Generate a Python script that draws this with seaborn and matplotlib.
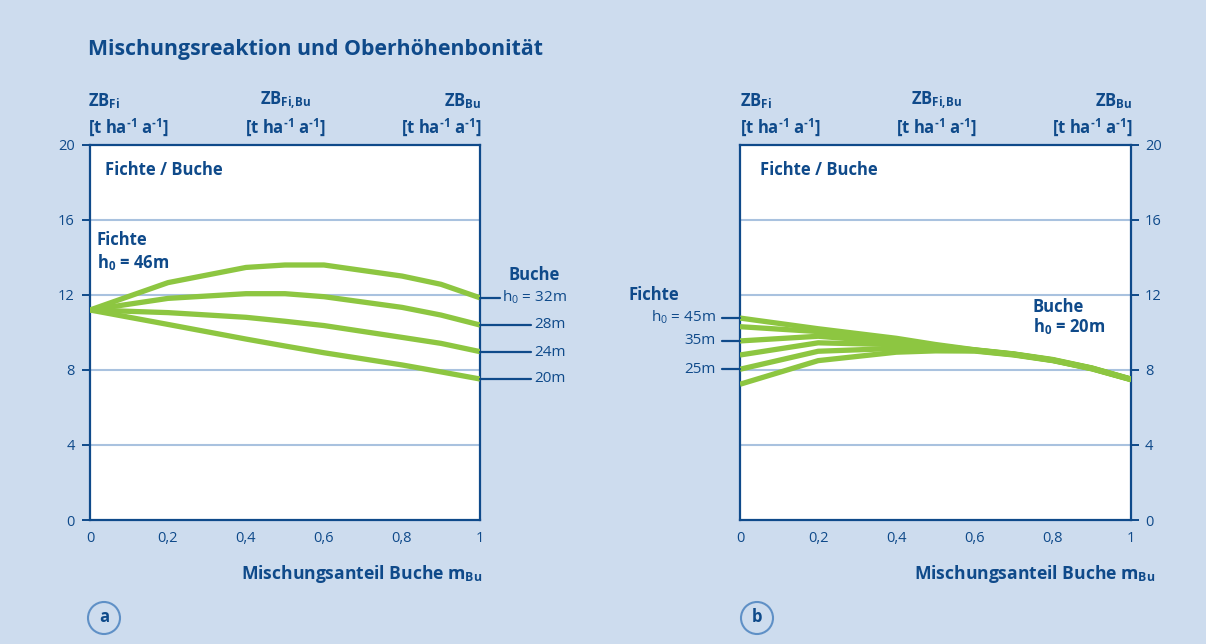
import numpy as np
import pandas as pd
import matplotlib
matplotlib.use("Agg")
import matplotlib.pyplot as plt
from matplotlib.patches import Ellipse
import seaborn as sns

# ---------------- data ----------------
# Panel a: Fichte h0 = 46m, varying Buche h0
x_a = [0.0, 0.2, 0.4, 0.5, 0.6, 0.8, 0.9, 1.0]
buche_h0 = ["32m", "28m", "24m", "20m"]
zb_a_32 = [11.2, 12.66, 13.47, 13.6, 13.6, 13.01, 12.57, 11.85]
zb_a_28 = [11.2, 11.82, 12.07, 12.07, 11.91, 11.34, 10.93, 10.4]
zb_a_24 = [11.2, 11.06, 10.81, 10.6, 10.37, 9.74, 9.42, 8.98]
zb_a_20 = [11.2, 10.43, 9.65, 9.28, 8.92, 8.27, 7.9, 7.52]

# Panel b: Buche h0 = 20m, varying Fichte h0
x_b = [0.0, 0.2, 0.4, 0.5, 0.6, 0.7, 0.8, 0.9, 1.0]
fichte_h0 = ["45m", "40m", "35m", "30m", "25m", "20m"]
zb_b_45 = [10.77, 10.2, 9.69, 9.36, 9.08, 8.86, 8.56, 8.11, 7.52]
zb_b_40 = [10.31, 10.05, 9.58, 9.3, 9.07, 8.85, 8.54, 8.1, 7.51]
zb_b_35 = [9.55, 9.8, 9.47, 9.24, 9.06, 8.84, 8.53, 8.09, 7.5]
zb_b_30 = [8.8, 9.45, 9.35, 9.18, 9.05, 8.83, 8.52, 8.08, 7.5]
zb_b_25 = [8.04, 9.0, 9.15, 9.1, 9.03, 8.82, 8.51, 8.07, 7.49]
zb_b_20 = [7.24, 8.5, 8.95, 9.02, 9.01, 8.8, 8.5, 8.06, 7.48]

x_ticks = [0, 0.2, 0.4, 0.6, 0.8, 1.0]
x_ticklabels = ["0", "0,2", "0,4", "0,6", "0,8", "1"]
y_ticks = [0, 4, 8, 12, 16, 20]
y_ticklabels = ["0", "4", "8", "12", "16", "20"]

df_a = pd.DataFrame({
    "m": x_a * 4,
    "zb": zb_a_32 + zb_a_28 + zb_a_24 + zb_a_20,
    "h0": sum([[h] * len(x_a) for h in buche_h0], []),
})
df_b = pd.DataFrame({
    "m": x_b * 6,
    "zb": zb_b_45 + zb_b_40 + zb_b_35 + zb_b_30 + zb_b_25 + zb_b_20,
    "h0": sum([[h] * len(x_b) for h in fichte_h0], []),
})

# ---------------- style ----------------
BG = "#cddcee"
DARK = "#0f4a8a"
GRID = "#a9c2df"
GREEN = "#8dc641"
CIRC = "#5f90c6"

sns.set_theme(style="white")
plt.rcParams["font.family"] = ["Open Sans", "DejaVu Sans"]
plt.rcParams["mathtext.fontset"] = "custom"
plt.rcParams["mathtext.rm"] = "Open Sans"
plt.rcParams["mathtext.bf"] = "Open Sans:bold"
plt.rcParams["mathtext.it"] = "Open Sans:italic"

W, H = 1206, 644
fig = plt.figure(figsize=(W / 100, H / 100), dpi=100, facecolor=BG)


def fx(px):
    return px / W


def fy(py):
    return 1 - py / H


def ftext(px, py, s, **kw):
    kw.setdefault("color", DARK)
    kw.setdefault("va", "center")
    return fig.text(fx(px), fy(py), s, **kw)


ax_a = fig.add_axes([fx(90), fy(520), fx(480) - fx(90), fy(145) - fy(520)])
ax_b = fig.add_axes([fx(740), fy(520), fx(1131) - fx(740), fy(145) - fy(520)])

for ax, df, nh in [(ax_a, df_a, 4), (ax_b, df_b, 6)]:
    ax.set_facecolor("white")
    for g in [4, 8, 12, 16]:
        ax.axhline(g, color=GRID, lw=1.5, zorder=0)
    sns.lineplot(data=df, x="m", y="zb", hue="h0", palette=[GREEN] * nh,
                 lw=3.8, legend=False, ax=ax, zorder=3, solid_capstyle="butt")
    ax.set_xlim(0, 1)
    ax.set_ylim(0, 20)
    ax.set_xlabel("")
    ax.set_ylabel("")
    ax.set_xticks(x_ticks)
    ax.set_xticklabels(x_ticklabels)
    ax.set_yticks(y_ticks)
    ax.set_yticklabels(y_ticklabels)
    for sp in ax.spines.values():
        sp.set_color(DARK)
        sp.set_linewidth(1.6)
    ax.tick_params(axis="both", colors=DARK, labelcolor=DARK, labelsize=10.5,
                   length=6, width=1.4, direction="out")
    ax.tick_params(axis="x", pad=2)

ax_a.tick_params(axis="y", left=True, right=False, labelleft=True, pad=5)
ax_b.yaxis.tick_right()
ax_b.tick_params(axis="y", right=True, left=False, labelright=True, labelleft=False, pad=4)

# Buche annotation ticks on panel a right spine (at the series end values)
ends_a = [zb_a_32[-1], zb_a_28[-1], zb_a_24[-1], zb_a_20[-1]]
tick_len_a = [0.05, 0.13, 0.13, 0.13]
for v, L in zip(ends_a, tick_len_a):
    ax_a.plot([1.0, 1.0 + L], [v, v], color=DARK, lw=1.6, clip_on=False, zorder=4)

# Fichte annotation ticks on panel b left spine
starts_b = [zb_b_45[0], zb_b_35[0], zb_b_25[0]]
for v in starts_b:
    ax_b.plot([-0.047, 0.0], [v, v], color=DARK, lw=1.6, clip_on=False, zorder=4)

# ---------------- texts ----------------
BFS = 12
ftext(88, 50, "Mischungsreaktion und Oberhöhenbonität", fontsize=15.3, fontweight="bold")

unit = "[t ha$^{\\mathbf{\u20101}}$ a$^{\\mathbf{\u20101}}$]"
for (l, c, r) in [(88, 285, 482), (740, 936, 1133)]:
    ftext(l, 101, r"ZB$_{\mathbf{Fi}}$", fontsize=BFS, fontweight="bold", ha="left")
    ftext(c, 101, r"ZB$_{\mathbf{Fi{,}Bu}}$", fontsize=BFS, fontweight="bold", ha="center")
    ftext(r, 101, r"ZB$_{\mathbf{Bu}}$", fontsize=BFS, fontweight="bold", ha="right")
    for px, ha in [(l, "left"), (c, "center"), (r, "right")]:
        ftext(px, 127, unit, fontsize=BFS, fontweight="bold", ha=ha)

ftext(105, 170, "Fichte / Buche", fontsize=BFS, fontweight="bold")
ftext(760, 170, "Fichte / Buche", fontsize=BFS, fontweight="bold")

ftext(97, 240, "Fichte", fontsize=BFS, fontweight="bold")
ftext(97, 263, r"h$_{\mathbf{0}}$ = 46m", fontsize=BFS, fontweight="bold")

ftext(509, 275, "Buche", fontsize=BFS, fontweight="bold")
ftext(502, 297, r"h$_{\mathrm{0}}$ = 32m", fontsize=11)
ftext(534, 325, "28m", fontsize=11)
ftext(534, 352, "24m", fontsize=11)
ftext(534, 378, "20m", fontsize=11)

ftext(628, 295, "Fichte", fontsize=BFS, fontweight="bold")
ftext(716, 317, r"h$_{\mathrm{0}}$ = 45m", fontsize=11, ha="right")
ftext(716, 341, "35m", fontsize=11, ha="right")
ftext(716, 369, "25m", fontsize=11, ha="right")

ftext(1033, 307, "Buche", fontsize=BFS, fontweight="bold")
ftext(1033, 327, r"h$_{\mathbf{0}}$ = 20m", fontsize=BFS, fontweight="bold")

ftext(482, 574, r"Mischungsanteil Buche m$_{\mathbf{Bu}}$", fontsize=12.6,
      fontweight="bold", ha="right")
ftext(1155, 574, r"Mischungsanteil Buche m$_{\mathbf{Bu}}$", fontsize=12.6,
      fontweight="bold", ha="right")

for cx, lab in [(104, "a"), (757, "b")]:
    fig.add_artist(Ellipse((fx(cx), fy(618)), width=32 / W, height=32 / H,
                           transform=fig.transFigure, facecolor="none",
                           edgecolor=CIRC, lw=1.5))
    ftext(cx, 617, lab, fontsize=12, fontweight="bold", ha="center")

fig.savefig("out.png", dpi=100, facecolor=BG)
